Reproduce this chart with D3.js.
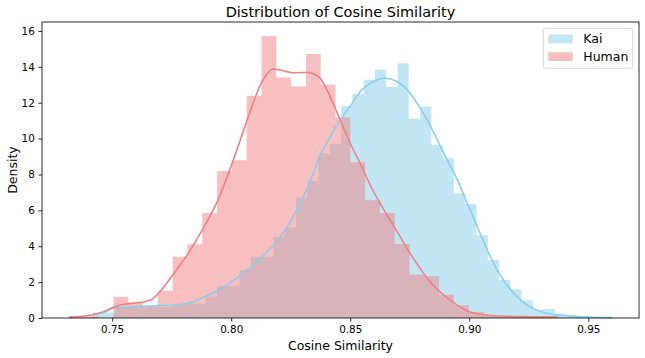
<!DOCTYPE html>
<html><head><meta charset="utf-8">
<script src="https://cdn.jsdelivr.net/npm/d3@7"></script>
<style>
body{margin:0;background:#fff}
svg text{font-family:"DejaVu Sans",sans-serif;fill:#000}
</style>
</head><body>
<svg id="chart" width="645" height="358"></svg>
<script>
// ---------- data ----------
const seriesNames = ["Kai", "Human"];
const xTickValues = [0.75, 0.80, 0.85, 0.90, 0.95];
const yTickValues = [0, 2, 4, 6, 8, 10, 12, 14, 16];

// Kai histogram: 46 equal-width bins
const kaiBinStart = 0.7419;
const kaiBinWidth = 0.004739;
const kaiDensity = [0.3, 0.3, 0.6, 0.62, 0.65, 0.65, 0.62, 0.7, 0.8, 0.8,
  1.2, 1.8, 1.8, 2.68, 3.42, 3.42, 4.5, 5.04, 6.7, 7.63,
  9.18, 9.7, 11.82, 12.5, 13.28, 13.84, 12.87, 14.2, 11.1, 11.77,
  9.65, 8.9, 6.96, 6.36, 4.62, 3.23, 2.12, 1.6, 0.99, 0.47,
  0.5, 0.25, 0.15, 0.12, 0.07, 0.07];

// Human histogram: 33 equal-width bins
const humanBinStart = 0.7319;
const humanBinWidth = 0.006218;
const humanDensity = [0.1, 0.1, 0.0, 1.19, 0.86, 0.65, 1.52, 3.42, 4.11, 5.86,
  8.19, 8.8, 12.39, 15.72, 13.41, 12.91, 14.71, 13.0, 11.18, 8.68,
  6.57, 5.86, 4.12, 2.42, 2.33, 1.3, 0.71, 0.34, 0.15, 0.1,
  0.1, 0.1, 0.1];

// KDE curves: [cosine similarity, density]
const kaiKde = [[0.7419,0.2],[0.7471,0.33],[0.7504,0.54],[0.7584,0.63],[0.7668,0.68],
  [0.7752,0.72],[0.7819,0.82],[0.7870,1.08],[0.7954,1.6],[0.8038,2.38],[0.8122,3.31],
  [0.8206,4.52],[0.8277,6.05],[0.8332,7.65],[0.8374,9.08],[0.8416,10.1],[0.8458,11.03],
  [0.8500,11.81],[0.8542,12.61],[0.8584,13.08],[0.8647,13.36],[0.8698,13.17],[0.8740,12.71],
  [0.8782,11.96],[0.8824,11.03],[0.8866,9.92],[0.8908,8.8],[0.8950,7.69],[0.8992,6.38],
  [0.9034,5.08],[0.9076,3.78],[0.9118,2.66],[0.9160,1.82],[0.9202,1.17],[0.9244,0.71],
  [0.9298,0.37],[0.9382,0.15],[0.9479,0.06],[0.9601,0.02]];
const humanKde = [[0.7319,0.05],[0.7378,0.1],[0.7441,0.25],[0.7504,0.58],[0.7542,0.75],
  [0.7584,0.82],[0.7630,0.89],[0.7668,1.05],[0.7706,1.55],[0.7756,2.42],[0.7819,3.6],
  [0.7878,4.9],[0.7941,6.47],[0.8004,8.62],[0.8067,11.03],[0.8126,13.08],[0.8176,13.88],
  [0.8206,13.82],[0.8261,13.67],[0.8319,13.69],[0.8345,13.62],[0.8374,13.36],[0.8416,12.33],
  [0.8458,11.03],[0.8500,9.73],[0.8542,8.62],[0.8584,7.4],[0.8626,6.38],[0.8668,5.45],
  [0.8710,4.52],[0.8752,3.59],[0.8794,2.76],[0.8836,2.0],[0.8878,1.45],[0.8920,0.99],
  [0.8962,0.61],[0.9004,0.33],[0.9046,0.21],[0.9130,0.11],[0.9256,0.07],[0.9370,0.06]];

// ---------- chart ----------
const plot = {left: 42, right: 639, top: 22, bottom: 318};
const svg = d3.select("#chart");

const x = d3.scaleLinear().domain([0.72053, 0.97129]).range([plot.left, plot.right]);
const y = d3.scaleLinear().domain([0, 16.5]).range([plot.bottom, plot.top]);

const colors = {
  Kai: {bar: "rgba(135,206,235,0.5)", line: "#87ceeb"},
  Human: {bar: "rgba(240,128,128,0.5)", line: "#f08080"}
};

// step outline points for a histogram: each bin start plus the final edge
function stepPoints(start, width, dens) {
  const pts = dens.map((d, i) => ({edge: start + i * width, d}));
  pts.push({edge: start + dens.length * width, d: 0});
  return pts;
}

const g = svg.append("g");
const series = [
  {name: "Kai", steps: stepPoints(kaiBinStart, kaiBinWidth, kaiDensity), kde: kaiKde},
  {name: "Human", steps: stepPoints(humanBinStart, humanBinWidth, humanDensity), kde: humanKde}
];

const area = d3.area().x(p => x(p.edge)).y0(y(0)).y1(p => y(p.d)).curve(d3.curveStepAfter);
series.forEach(s => {
  g.append("path").datum(s.steps).attr("d", area).attr("fill", colors[s.name].bar);
});

const line = d3.line().x(d => x(d[0])).y(d => y(d[1])).curve(d3.curveMonotoneX);
series.forEach(s => {
  g.append("path").datum(s.kde).attr("d", line)
    .attr("fill", "none").attr("stroke", colors[s.name].line)
    .attr("stroke-width", 1.56).attr("stroke-linejoin", "round");
});

// axes
const xAxis = d3.axisBottom(x).tickValues(xTickValues).tickFormat(d3.format(".2f"))
  .tickSize(3.6).tickPadding(3.6);
const xg = svg.append("g").attr("transform", `translate(0,${plot.bottom})`).call(xAxis);
const yAxis = d3.axisLeft(y).tickValues(yTickValues).tickFormat(d3.format("d"))
  .tickSize(3.6).tickPadding(3.6);
const yg = svg.append("g").attr("transform", `translate(${plot.left},0)`).call(yAxis);
[xg, yg].forEach(a => {
  a.select(".domain").remove();
  a.selectAll(".tick line").attr("stroke", "#000").attr("stroke-width", 0.83);
  a.selectAll(".tick text").attr("font-size", 10.4).attr("fill", "#000")
    .style("font-family", '"DejaVu Sans",sans-serif');
});

// frame
svg.append("rect").attr("x", plot.left).attr("y", plot.top)
  .attr("width", plot.right - plot.left).attr("height", plot.bottom - plot.top)
  .attr("fill", "none").attr("stroke", "#000").attr("stroke-width", 0.83);

// labels
svg.append("text").attr("x", (plot.left + plot.right) / 2).attr("y", 17)
  .attr("text-anchor", "middle").attr("font-size", 14.5).text("Distribution of Cosine Similarity");
svg.append("text").attr("x", (plot.left + plot.right) / 2).attr("y", 350)
  .attr("text-anchor", "middle").attr("font-size", 12.5).text("Cosine Similarity");
svg.append("text").attr("transform", `translate(17,${(plot.top + plot.bottom) / 2}) rotate(-90)`)
  .attr("text-anchor", "middle").attr("font-size", 12.5).text("Density");

// legend
const lg = svg.append("g");
lg.append("rect").attr("x", 543.3).attr("y", 28.3).attr("width", 89.5).attr("height", 40)
  .attr("rx", 2.5).attr("fill", "rgba(255,255,255,0.8)").attr("stroke", "#cccccc").attr("stroke-width", 0.83);
seriesNames.forEach((n, i) => {
  const cy = 38.9 + i * 17.8;
  lg.append("rect").attr("x", 548.3).attr("y", cy - 4.4).attr("width", 24.5).attr("height", 8.7)
    .attr("fill", colors[n].bar);
  lg.append("text").attr("x", 583.3).attr("y", cy).attr("dy", "0.36em")
    .attr("font-size", 12.5).text(n);
});
</script>
</body></html>
